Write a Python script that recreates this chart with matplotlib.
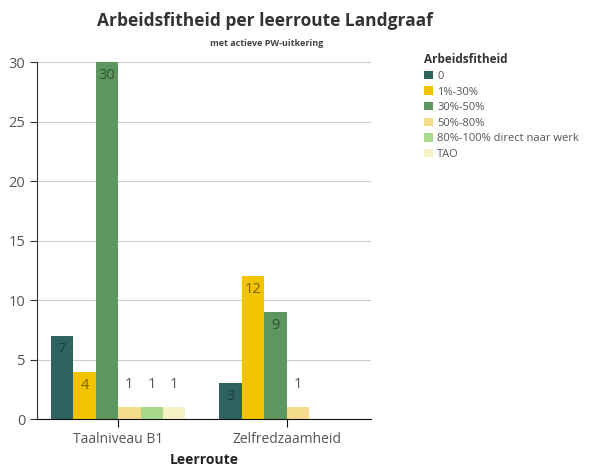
import matplotlib.pyplot as plt
import numpy as np

plt.rcParams['font.family'] = ['Open Sans', 'DejaVu Sans']

routes = ['Taalniveau B1', 'Zelfredzaamheid']
categories = ['0', '1%-30%', '30%-50%', '50%-80%', '80%-100% direct naar werk', 'TAO']
values = {
    '0': [7, 3],
    '1%-30%': [4, 12],
    '30%-50%': [30, 9],
    '50%-80%': [1, 1],
    '80%-100% direct naar werk': [1, 0],
    'TAO': [1, 0],
}
colors = ['#2e6360', '#f2c300', '#5e9660', '#f5dc8c', '#a9d98b', '#f5f2c4']
label_colors = ['#1d3f3d', '#7a6300', '#2f5530', '#555555', '#555555', '#555555']

fig = plt.figure(figsize=(5.89, 4.71), dpi=100)
ax = fig.add_axes([0.063, 0.110, 0.567, 0.758])

x = np.arange(len(routes)) * 1.0
w = 0.133
for i, cat in enumerate(categories):
    pos = x + (i - 2.5) * w
    vals = values[cat]
    for p, v in zip(pos, vals):
        if v == 0:
            continue
        ax.bar(p, v, w, color=colors[i], zorder=2)
        if v >= 3:
            ax.text(p, v - 0.5, str(v), ha='center', va='top', fontsize=10.5,
                    color=label_colors[i], zorder=3)
        else:
            ax.text(p, v + 1.3, str(v), ha='center', va='bottom', fontsize=10.5,
                    color='#555555', zorder=3)
    ax.bar(0, 0, 0, color=colors[i], label=cat)

ax.set_ylim(0, 30)
ax.set_yticks(range(0, 31, 5))
ax.set_xlim(-0.48, 1.5)
ax.set_xticks(x)
ax.set_xticklabels(routes)
ax.grid(axis='y', color='#cccccc', linewidth=0.8, zorder=0)
for s in ['top', 'right']:
    ax.spines[s].set_visible(False)
ax.spines['left'].set_color('#333333')
ax.spines['bottom'].set_color('#111111')
ax.tick_params(axis='y', colors='#333333', labelcolor='#555555', labelsize=10.5, length=5)
ax.tick_params(axis='x', colors='#111111', labelcolor='#555555', labelsize=10, length=6)
ax.set_xlabel('Leerroute', fontsize=10, fontweight='bold', color='#222222', labelpad=4)

fig.text(0.45, 0.955, 'Arbeidsfitheid per leerroute Landgraaf', ha='center', va='center',
         fontsize=12.5, fontweight='bold', color='#333333')
fig.text(0.453, 0.908, 'met actieve PW-uitkering', ha='center', va='center',
         fontsize=6.5, fontweight='bold', color='#444444')

leg = ax.legend(title='Arbeidsfitheid', loc='upper left', bbox_to_anchor=(1.145, 1.037),
                frameon=False, fontsize=8, title_fontsize=8.5, handlelength=0.8,
                handleheight=0.8, handletextpad=0.4, labelspacing=0.4, borderaxespad=0)
leg.get_title().set_fontweight('bold')
leg.get_title().set_color('#333333')
leg._legend_box.align = 'left'
for t in leg.get_texts():
    t.set_color('#555555')

fig.savefig('out.png', dpi=100)
